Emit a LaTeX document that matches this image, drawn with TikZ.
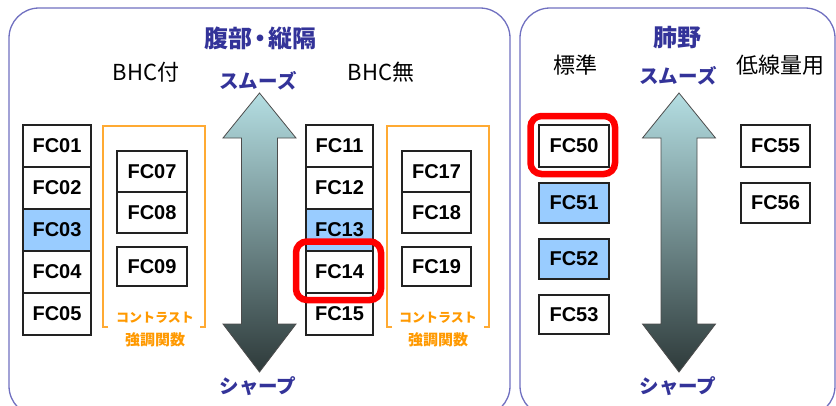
\documentclass[tikz,border=0pt]{standalone}
\usepackage{fontspec}
\setmainfont{Liberation Sans}
\newfontfamily\jp{Noto Sans CJK JP}
\definecolor{panelc}{HTML}{7070C0}
\definecolor{titleblue}{HTML}{333399}
\definecolor{boxblue}{HTML}{99CCFF}
\definecolor{boxline}{HTML}{222222}
\definecolor{brk}{HTML}{FFAA33}
\definecolor{orangetxt}{HTML}{FF9900}
\definecolor{arrtop}{HTML}{B4DEE2}
\definecolor{arrmid}{HTML}{86A4A6}
\definecolor{arrbot}{HTML}{2E3A3A}
\definecolor{redf}{HTML}{FF0000}
\begin{document}
\begin{tikzpicture}[x=1pt,y=-1pt,
  panel/.style={draw=panelc,line width=1.3pt,rounded corners=30pt},
  fcbox/.style={draw=boxline,line width=1.1pt,fill=white,inner sep=0pt,
    font=\fontsize{20}{20}\selectfont\bfseries,text=black},
  bluebox/.style={fcbox,fill=boxblue},
  bracket/.style={draw=brk,line width=1.3pt},
  title/.style={font=\jp\fontsize{24}{24}\selectfont\bfseries,text=titleblue,inner sep=0pt},
  label/.style={font=\jp\fontsize{22}{22}\selectfont,text=black,inner sep=0pt},
  kana/.style={font=\jp\fontsize{19.5}{19.5}\selectfont\bfseries,text=titleblue,inner sep=0pt},
  otxt/.style={font=\jp\fontsize{13}{13}\selectfont\bfseries,text=orangetxt,inner sep=0pt},
  otxtb/.style={font=\jp\fontsize{15}{15}\selectfont\bfseries,text=orangetxt,inner sep=0pt},
  redframe/.style={draw=redf,line width=6.5pt,rounded corners=11pt},
  arrowshade/.style={draw=black!70,line width=0.8pt,top color=arrtop,middle color=arrmid,bottom color=arrbot},
  dblarrow/.pic={
    \path[arrowshade] (0,93) -- (36.5,138) -- (18,138) -- (18,324) -- (36.5,324)
      -- (0,372) -- (-36.5,324) -- (-18,324) -- (-18,138) -- (-36.5,138) -- cycle;
  }
]
\useasboundingbox (0,0) rectangle (836,405);

% panels (bottom edge falls just outside the picture)
\draw[panel] (9,8) rectangle (510,416);
\draw[panel] (520,8) rectangle (835,416);

% orange brackets
\draw[bracket] (108,327) -- (103,327) -- (103,126) -- (205,126) -- (205,327) -- (200,327);
\draw[bracket] (392,327) -- (387,327) -- (387,126) -- (489,126) -- (489,327) -- (484,327);

% titles and labels
\node[title] (t1) at (260,38) {腹部\kern-4pt・\kern-4pt縦隔};
\node[label] (bhc1) at (146,72) {BHC付};
\node[label] (bhc2) at (381,72) {BHC無};
\node[kana] (sm1) at (258,81) {スムーズ};
\node[kana] (sh1) at (258,386) {シャープ};

\node[title] (t2) at (677,38) {肺野};
\node[label] (std) at (575,65) {標準};
\node[label] (low) at (780,65) {低線量用};
\node[kana] (sm2) at (678,76) {スムーズ};
\node[kana] (sh2) at (678,386) {シャープ};

\node[otxt] (c1) at (155,318) {コントラスト};
\node[otxtb] (k1) at (155,340) {強調関数};
\node[otxt] (c2) at (438,318) {コントラスト};
\node[otxtb] (k2) at (438,340) {強調関数};

% arrows
\pic at (259.5,0) {dblarrow};
\pic at (679,0) {dblarrow};

% column BHC付
\node[fcbox,minimum width=68pt,minimum height=42pt] (fc01) at (57,146) {FC01};
\node[fcbox,minimum width=68pt,minimum height=42pt] (fc02) at (57,188) {FC02};
\node[bluebox,minimum width=68pt,minimum height=42pt] (fc03) at (57,230) {FC03};
\node[fcbox,minimum width=68pt,minimum height=42pt] (fc04) at (57,272) {FC04};
\node[fcbox,minimum width=68pt,minimum height=42pt] (fc05) at (57,314) {FC05};

\node[fcbox,minimum width=70pt,minimum height=41pt] (fc07) at (152,171.5) {FC07};
\node[fcbox,minimum width=70pt,minimum height=41pt] (fc08) at (152,212.5) {FC08};
\node[fcbox,minimum width=70pt,minimum height=39pt] (fc09) at (152,266.5) {FC09};

% column BHC無
\node[fcbox,minimum width=67pt,minimum height=42pt] (fc11) at (339.5,146) {FC11};
\node[fcbox,minimum width=67pt,minimum height=42pt] (fc12) at (339.5,188) {FC12};
\node[bluebox,minimum width=67pt,minimum height=42pt] (fc13) at (339.5,230) {FC13};
\node[fcbox,minimum width=67pt,minimum height=42pt] (fc14) at (339.5,272) {FC14};
\node[fcbox,minimum width=67pt,minimum height=42pt] (fc15) at (339.5,314) {FC15};

\node[fcbox,minimum width=69pt,minimum height=41pt] (fc17) at (436.5,171.5) {FC17};
\node[fcbox,minimum width=69pt,minimum height=41pt] (fc18) at (436.5,212.5) {FC18};
\node[fcbox,minimum width=69pt,minimum height=39pt] (fc19) at (436.5,266.5) {FC19};

% lung field
\node[fcbox,minimum width=70pt,minimum height=42pt] (fc50) at (574,146) {FC50};
\node[bluebox,minimum width=70pt,minimum height=40pt] (fc51) at (574,203) {FC51};
\node[bluebox,minimum width=70pt,minimum height=40pt] (fc52) at (574,259) {FC52};
\node[fcbox,minimum width=70pt,minimum height=39pt] (fc53) at (574,314.5) {FC53};

\node[fcbox,minimum width=69pt,minimum height=42pt] (fc55) at (775.5,146) {FC55};
\node[fcbox,minimum width=69pt,minimum height=40pt] (fc56) at (775.5,203) {FC56};

% red highlight frames
\draw[redframe] (296,241.5) rectangle (381,300);
\draw[redframe] (530.5,116) rectangle (615,174);
\end{tikzpicture}
\end{document}
